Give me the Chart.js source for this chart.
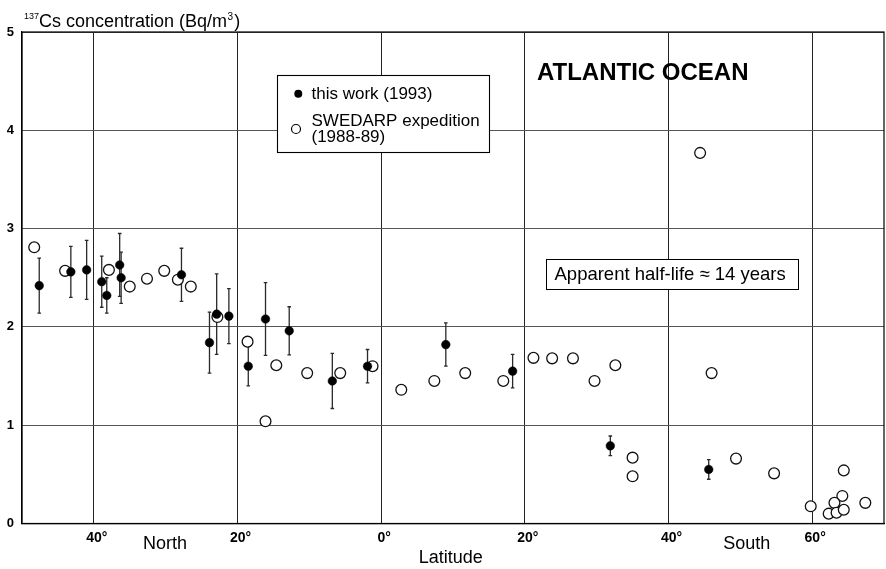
<!DOCTYPE html>
<html>
<head>
<meta charset="utf-8">
<script src="https://cdn.jsdelivr.net/npm/chart.js@4/dist/chart.umd.min.js"></script>
<style>
  html, body { margin: 0; padding: 0; background: #fff; }
  #wrap { width: 886px; height: 569px; position: relative; }
</style>
</head>
<body>
<div id="wrap"><canvas id="c" width="886" height="569"></canvas></div>
<script>
// Latitude in degrees: negative = North, positive = South
const thisWorkLat = [-47.6, -43.2, -41.0, -38.9, -38.2, -36.4, -36.2, -27.8, -23.9, -22.9,
                     -21.2, -18.5, -16.1, -12.8, -6.8, -1.9, 9.0, 18.3, 31.9, 45.6];
// 137Cs concentration, Bq/m3
const thisWorkCs  = [2.42, 2.56, 2.58, 2.46, 2.32, 2.63, 2.50, 2.53, 1.84, 2.13,
                     2.11, 1.60, 2.08, 1.96, 1.45, 1.60, 1.82, 1.55, 0.79, 0.55];
// one-sigma uncertainty, Bq/m3
const thisWorkErr = [0.28, 0.26, 0.30, 0.26, 0.18, 0.32, 0.26, 0.27, 0.31, 0.41,
                     0.28, 0.20, 0.37, 0.245, 0.28, 0.17, 0.22, 0.17, 0.10, 0.10];

const swedarpLat = [-48.3, -44.0, -37.9, -35.0, -32.6, -30.2, -28.3, -26.5, -22.8, -18.6,
                    -16.1, -14.6, -10.3, -5.7, -1.2, 2.8, 7.4, 11.7, 17.0, 21.2,
                    23.8, 26.7, 29.7, 32.6, 35.0, 35.0, 44.4, 46.0, 49.4, 54.7,
                    59.8, 64.4, 64.2, 63.1, 62.3, 63.4, 64.4, 67.4];
const swedarpCs  = [2.81, 2.57, 2.58, 2.41, 2.49, 2.57, 2.48, 2.41, 2.10, 1.85,
                    1.04, 1.61, 1.53, 1.53, 1.60, 1.36, 1.45, 1.53, 1.45, 1.685,
                    1.68, 1.68, 1.45, 1.61, 0.67, 0.48, 3.77, 1.53, 0.66, 0.51,
                    0.175, 0.54, 0.28, 0.21, 0.10, 0.11, 0.14, 0.21];

const latTicks = [-40, -20, 0, 20, 40, 60];
const csTicks  = [0, 1, 2, 3, 4, 5];

const FONT = '"Liberation Sans", Arial, Helvetica, sans-serif';

function pts(xs, ys) { return xs.map((x, i) => ({ x: x, y: ys[i] })); }

// error bars for "this work", drawn under the markers
const errorBars = {
  id: 'errorBars',
  beforeDatasetsDraw(chart) {
    const { ctx, scales: { x, y } } = chart;
    ctx.save();
    ctx.strokeStyle = '#2a2a2a';
    ctx.lineWidth = 1.3;
    thisWorkLat.forEach((lat, i) => {
      const px = x.getPixelForValue(lat);
      const top = y.getPixelForValue(thisWorkCs[i] + thisWorkErr[i]);
      const bot = y.getPixelForValue(thisWorkCs[i] - thisWorkErr[i]);
      ctx.beginPath();
      ctx.moveTo(px, top); ctx.lineTo(px, bot);
      ctx.moveTo(px - 1.8, top); ctx.lineTo(px + 1.8, top);
      ctx.moveTo(px - 1.8, bot); ctx.lineTo(px + 1.8, bot);
      ctx.stroke();
    });
    ctx.restore();
  }
};

// frame, titles, legend and text boxes
const decorations = {
  id: 'decorations',
  afterDraw(chart) {
    const { ctx, chartArea: a, scales: { x } } = chart;
    ctx.save();
    ctx.strokeStyle = '#000';
    ctx.lineWidth = 1.2;
    ctx.strokeRect(a.left, a.top, a.right - a.left, a.bottom - a.top);

    ctx.fillStyle = '#000';
    ctx.textBaseline = 'alphabetic';
    ctx.textAlign = 'left';
    // axis title with superscripts
    ctx.font = '9px ' + FONT;
    ctx.fillText('137', 24, 19);
    ctx.font = '18px ' + FONT;
    ctx.fillText('Cs concentration (Bq/m', 39, 26.5);
    let w = ctx.measureText('Cs concentration (Bq/m').width;
    ctx.font = '10px ' + FONT;
    ctx.fillText('3', 39 + w + 0.5, 19.5);
    let w2 = ctx.measureText('3').width;
    ctx.font = '18px ' + FONT;
    ctx.fillText(')', 39 + w + w2 + 1.5, 26.5);

    // hemisphere and axis labels
    ctx.textAlign = 'center';
    ctx.textBaseline = 'middle';
    ctx.font = '18px ' + FONT;
    ctx.fillText('North', x.getPixelForValue(-30.1), 544.5);
    ctx.fillText('South', x.getPixelForValue(50.9), 544.5);
    ctx.fillText('Latitude', x.getPixelForValue(9.7), 558.5);

    // ocean label
    ctx.textAlign = 'left';
    ctx.font = 'bold 24px ' + FONT;
    ctx.fillText('ATLANTIC OCEAN', 537, 73.5);

    // half-life box
    ctx.fillStyle = '#fff';
    ctx.fillRect(546, 259.5, 252, 30);
    ctx.lineWidth = 1;
    ctx.strokeRect(546.5, 259.5, 252, 30);
    ctx.fillStyle = '#000';
    ctx.font = '18.5px ' + FONT;
    ctx.fillText('Apparent half-life \u2248 14 years', 554.5, 275);

    // legend
    ctx.fillStyle = '#fff';
    ctx.fillRect(277, 75, 212, 77);
    ctx.strokeStyle = '#000';
    ctx.lineWidth = 1.1;
    ctx.strokeRect(277.5, 75.5, 212, 77);
    ctx.fillStyle = '#000';
    ctx.beginPath(); ctx.arc(298.3, 93.7, 4, 0, Math.PI * 2); ctx.fill();
    ctx.beginPath(); ctx.arc(296, 129, 4.5, 0, Math.PI * 2);
    ctx.lineWidth = 1.2; ctx.stroke();
    ctx.font = '17px ' + FONT;
    ctx.fillText('this work (1993)', 311.5, 94);
    ctx.fillText('SWEDARP expedition', 311.5, 121.5);
    ctx.fillText('(1988-89)', 311.5, 137);
    ctx.restore();
  }
};

new Chart(document.getElementById('c'), {
  type: 'scatter',
  data: {
    datasets: [
      {
        label: 'this work (1993)',
        data: pts(thisWorkLat, thisWorkCs),
        pointRadius: 4.3,
        pointBackgroundColor: '#000',
        pointBorderColor: '#000',
        pointBorderWidth: 0.5
      },
      {
        label: 'SWEDARP expedition (1988-89)',
        data: pts(swedarpLat, swedarpCs),
        pointRadius: 5.4,
        pointBackgroundColor: '#fff',
        pointBorderColor: '#111',
        pointBorderWidth: 1.3
      }
    ]
  },
  options: {
    responsive: false,
    animation: false,
    layout: { autoPadding: false, padding: { left: 0, right: 2, top: 32, bottom: 0 } },
    plugins: { legend: { display: false }, tooltip: { enabled: false } },
    scales: {
      x: {
        type: 'linear',
        min: -50, max: 70,
        afterBuildTicks: s => { s.ticks = latTicks.map(v => ({ value: v })); },
        afterFit: s => { s.height = 45.5; s.paddingLeft = 0; s.paddingRight = 0; },
        grid: { color: '#222', lineWidth: 1, drawTicks: false },
        border: { display: true, color: '#000', width: 1.2 },
        ticks: {
          padding: 6,
          labelOffset: 3,
          color: '#000',
          font: { family: FONT, size: 14, weight: 'bold' },
          callback: v => Math.abs(v) + '\u00b0'
        }
      },
      y: {
        type: 'linear',
        min: 0, max: 5,
        afterBuildTicks: s => { s.ticks = csTicks.map(v => ({ value: v })); },
        afterFit: s => { s.width = 22; s.paddingTop = 0; s.paddingBottom = 0; },
        grid: { color: '#555', lineWidth: 1, drawTicks: false },
        border: { display: true, color: '#000', width: 1.2 },
        ticks: {
          padding: 8,
          color: '#000',
          font: { family: FONT, size: 13, weight: 'bold' }
        }
      }
    }
  },
  plugins: [errorBars, decorations]
});
</script>
</body>
</html>
